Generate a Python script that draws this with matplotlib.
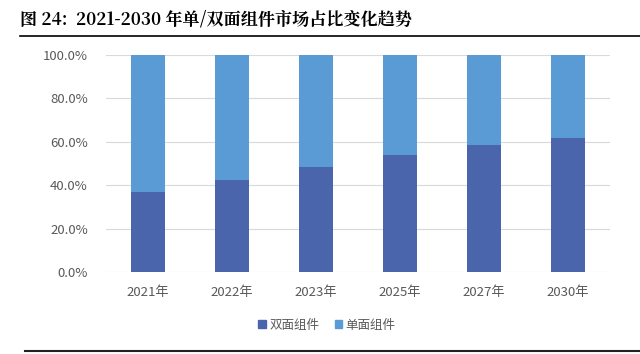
"""Single/bifacial module market share 2021-2030, stacked bars"""

import matplotlib
matplotlib.use('Agg')
import matplotlib.pyplot as plt
from matplotlib.lines import Line2D
from matplotlib.patches import Patch
from matplotlib.ticker import FuncFormatter

plt.rcParams['font.family'] = ['Noto Sans CJK SC', 'DejaVu Sans']

years = ['2021年', '2022年', '2023年', '2025年', '2027年', '2030年']
bifacial = [37.0, 42.5, 48.5, 54.0, 58.5, 61.8]
mono = [100 - v for v in bifacial]

dark = '#4A65AC'
light = '#5B9BD5'


def main():
    fig = plt.figure(figsize=(6.4, 3.54), dpi=100)
    ax = fig.add_axes([106 / 640, 1 - 272 / 354, 504 / 640, 217 / 354])

    x = range(len(years))
    ax.bar(x, bifacial, width=0.4, color=dark, label='双面组件', zorder=3)
    ax.bar(x, mono, width=0.4, bottom=bifacial, color=light, label='单面组件', zorder=3)

    ax.set_xlim(-0.5, len(years) - 0.5)
    ax.set_ylim(0, 100)
    ax.set_yticks(range(0, 101, 20))
    ax.yaxis.set_major_formatter(FuncFormatter(lambda v, p: f'{v:.1f}%'))
    ax.set_xticks(list(x))
    ax.set_xticklabels(years)
    ax.grid(axis='y', color='#D9D9D9', linewidth=0.8, zorder=0)
    for s in ax.spines.values():
        s.set_visible(False)
    ax.tick_params(length=0, labelsize=9.5, colors='#595959')
    ax.tick_params(axis='x', pad=10)
    ax.tick_params(axis='y', pad=13)

    handles = [Patch(color=dark), Patch(color=light)]
    fig.legend(handles, ['双面组件', '单面组件'], loc='center', bbox_to_anchor=(327 / 640, 1 - 325 / 354),
               ncol=2, frameon=False, fontsize=9, handlelength=0.6, handleheight=0.6,
               handletextpad=0.3, columnspacing=1.2, labelcolor='#595959')

    fig.text(20 / 640, 1 - 20 / 354, '图 24:  2021-2030 年单/双面组件市场占比变化趋势',
             fontsize=12.3, fontweight='heavy', va='center', ha='left',
             family=['Noto Serif CJK SC', 'Noto Sans CJK SC', 'DejaVu Serif'])
    fig.add_artist(Line2D([20 / 640, 1], [1 - 36 / 354] * 2, color='black', linewidth=1.2))
    fig.add_artist(Line2D([25 / 640, 1], [1 - 351 / 354] * 2, color='#222222', linewidth=1.5))

    fig.savefig('out.png', dpi=100)


if __name__ == '__main__':
    main()
